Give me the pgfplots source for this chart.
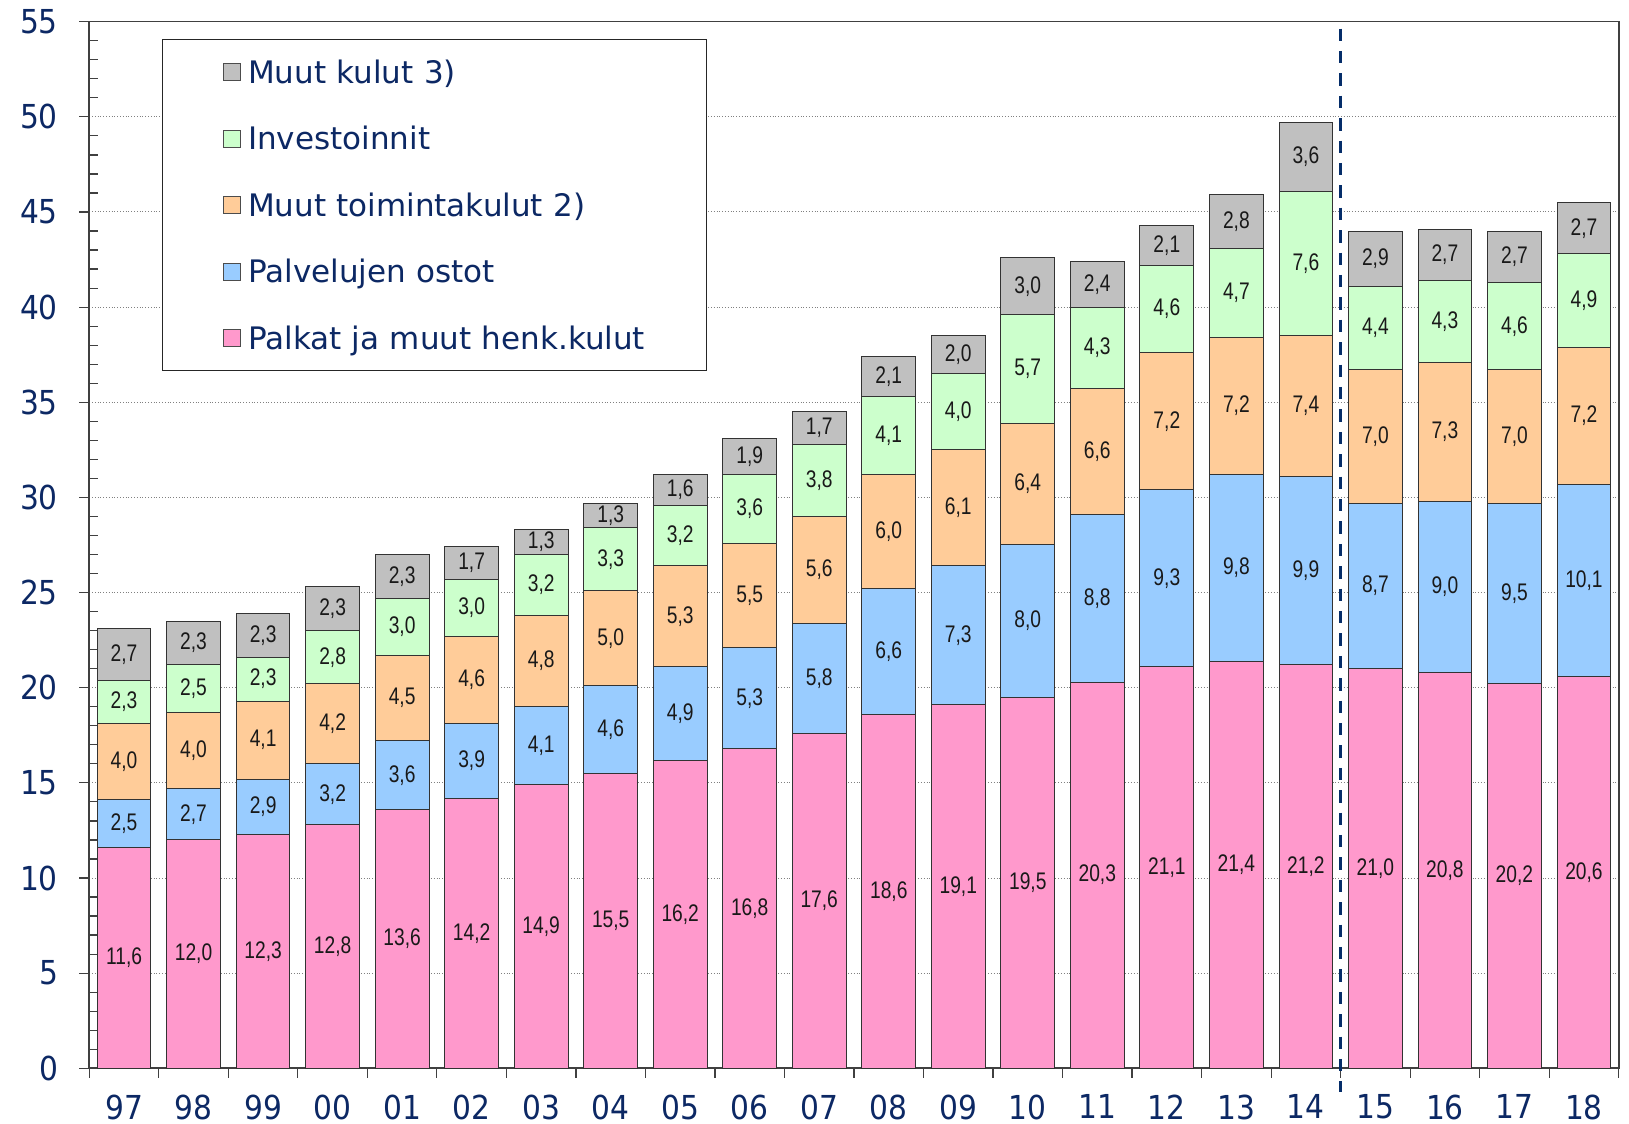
\documentclass[border=0pt]{standalone}
\usepackage{fontspec}
\usepackage{pgfplots}
\usepackage{pgfplotstable}
\pgfplotsset{compat=1.18}
\newfontfamily\tickfont[FakeStretch=0.9]{DejaVu Sans}
\newfontfamily\legfont{DejaVu Sans}
\newfontfamily\lblfont[FakeStretch=0.8]{Liberation Sans}
\definecolor{navy}{RGB}{12,40,100}
\definecolor{dashnavy}{RGB}{5,45,105}
\definecolor{cPal}{HTML}{FF99CC}
\definecolor{cPav}{HTML}{99CCFF}
\definecolor{cMtk}{HTML}{FFCC99}
\definecolor{cInv}{HTML}{CCFFCC}
\definecolor{cMuu}{HTML}{C0C0C0}

\pgfplotstableread{
x pal pav mtk inv muu
0 11.6 2.5 4.0 2.3 2.7
1 12.0 2.7 4.0 2.5 2.3
2 12.3 2.9 4.1 2.3 2.3
3 12.8 3.2 4.2 2.8 2.3
4 13.6 3.6 4.5 3.0 2.3
5 14.2 3.9 4.6 3.0 1.7
6 14.9 4.1 4.8 3.2 1.3
7 15.5 4.6 5.0 3.3 1.3
8 16.2 4.9 5.3 3.2 1.6
9 16.8 5.3 5.5 3.6 1.9
10 17.6 5.8 5.6 3.8 1.7
11 18.6 6.6 6.0 4.1 2.1
12 19.1 7.3 6.1 4.0 2.0
13 19.5 8.0 6.4 5.7 3.0
14 20.3 8.8 6.6 4.3 2.4
15 21.1 9.3 7.2 4.6 2.1
16 21.4 9.8 7.2 4.7 2.8
17 21.2 9.9 7.4 7.6 3.6
18 21.0 8.7 7.0 4.4 2.9
19 20.8 9.0 7.3 4.3 2.7
20 20.2 9.5 7.0 4.6 2.7
21 20.6 10.1 7.2 4.9 2.7
}\data
% label positions: middle of each stacked segment
\pgfplotstablecreatecol[create col/expr={\thisrow{pal}/2}]{ypal}{\data}
\pgfplotstablecreatecol[create col/expr={\thisrow{pal}+\thisrow{pav}/2}]{ypav}{\data}
\pgfplotstablecreatecol[create col/expr={\thisrow{pal}+\thisrow{pav}+\thisrow{mtk}/2}]{ymtk}{\data}
\pgfplotstablecreatecol[create col/expr={\thisrow{pal}+\thisrow{pav}+\thisrow{mtk}+\thisrow{inv}/2}]{yinv}{\data}
\pgfplotstablecreatecol[create col/expr={\thisrow{pal}+\thisrow{pav}+\thisrow{mtk}+\thisrow{inv}+\thisrow{muu}/2}]{ymuu}{\data}

\pgfplotsset{
  seg/.style={fill=#1, draw=black!80, line width=0.5pt,
    legend image code/.code={\draw[fill=#1, draw=black!70, line width=0.6pt] (0pt,-4.25pt) rectangle (8.5pt,4.25pt);},
  },
  lbl/.style={draw=none, mark=none, point meta=explicit,
    nodes near coords={\pgfmathprintnumber[fixed,fixed zerofill,precision=1,use comma,assume math mode=true]{\pgfplotspointmeta}},
    every node near coord/.style={font=\lblfont\fontsize{12}{14}\selectfont, text=black!90, anchor=center, inner sep=0pt},
  },
  base/.style={at={(0pt,0pt)}, anchor=south west,
    scale only axis, width=764.7pt, height=523.3pt, clip=false,
    xmin=-0.5, xmax=21.5, ymin=0, ymax=55},
}

\begin{document}
\begin{tikzpicture}
\useasboundingbox (-44.65pt,-27.85pt) rectangle (769.85pt,534.15pt);
\begin{axis}[
  base,
  ybar stacked, bar width=0.773,
  ytick={0,5,...,55}, minor y tick num=4,
  xtick={-0.5,0.5,...,21.5},
  x tick label as interval,
  xticklabels={97,98,99,00,01,02,03,04,05,06,07,08,09,10,11,12,13,14,15,16,17,18},
  tick align=inside, major tick length=-5pt, minor tick length=4.25pt,
  tick pos=left,
  every tick/.style={black!75, line width=0.6pt},
  axis line style={black!75, line width=0.8pt},
  ymajorgrids, grid style={densely dotted, black!50, line width=0.5pt},
  /pgf/number format/assume math mode=true,
  yticklabel style={font=\tickfont\fontsize{16.5}{18}\selectfont, text=navy, inner sep=0pt, anchor=east, xshift=-15.5pt},
  xticklabel style={font=\tickfont\fontsize{16.5}{18}\selectfont, text=navy, inner sep=0pt, anchor=north, yshift=-13pt},
  legend cell align=left, reverse legend,
  legend style={at={(0.04773,0.98318)}, anchor=north west, draw=black!85, line width=0.6pt,
    inner xsep=30pt, inner ysep=10.5pt, row sep=21.95pt, column sep=3.5pt,
    font=\legfont\fontsize{15.5}{18}\selectfont, text=navy,
    nodes={text width=199pt, text height=11.3pt, text depth=0pt, inner sep=0pt, align=left}},
]
\addplot[seg=cPal] table[x=x, y=pal] {\data};
\addplot[seg=cPav] table[x=x, y=pav] {\data};
\addplot[seg=cMtk] table[x=x, y=mtk] {\data};
\addplot[seg=cInv] table[x=x, y=inv] {\data};
\addplot[seg=cMuu] table[x=x, y=muu] {\data};
\legend{Palkat ja muut henk.kulut, Palvelujen ostot, Muut toimintakulut 2), Investoinnit, Muut kulut 3)}
\draw[dashnavy, line width=1.65pt, dash pattern=on 6.2pt off 5pt] (axis cs:17.5,54.64) -- (axis cs:17.5,-1.25);
\end{axis}
\begin{axis}[base, hide axis]
\addplot[lbl] table[x=x, y=ypal, meta=pal] {\data};
\addplot[lbl] table[x=x, y=ypav, meta=pav] {\data};
\addplot[lbl] table[x=x, y=ymtk, meta=mtk] {\data};
\addplot[lbl] table[x=x, y=yinv, meta=inv] {\data};
\addplot[lbl] table[x=x, y=ymuu, meta=muu] {\data};
\end{axis}
\end{tikzpicture}
\end{document}
